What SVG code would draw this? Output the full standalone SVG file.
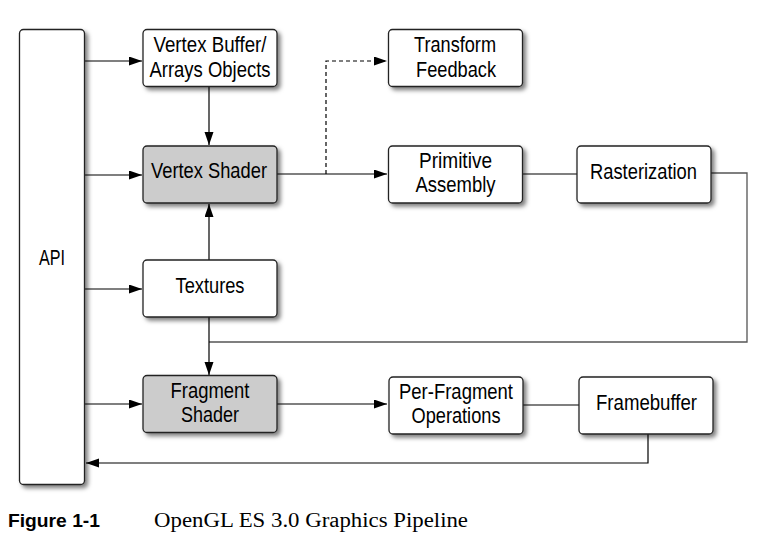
<svg xmlns="http://www.w3.org/2000/svg" width="766" height="535" viewBox="0 0 766 535">
<defs>
<filter id="sh" x="-20%" y="-20%" width="150%" height="150%">
<feDropShadow dx="3" dy="3" stdDeviation="2.2" flood-color="#000" flood-opacity="0.5"/>
</filter>
<marker id="ah" markerUnits="userSpaceOnUse" markerWidth="14" markerHeight="10" refX="13" refY="4.5" orient="auto">
<path d="M0,0 L13,4.5 L0,9 z" fill="#000"/>
</marker>
</defs>
<style>
.box{fill:#fff;stroke:#222;stroke-width:1.3;filter:url(#sh)}
.gray{fill:#cccccc}
.t{font-family:"Liberation Sans",Arial,sans-serif;font-size:22.5px;fill:#000}
.c{fill:none;stroke:#000;stroke-width:1.2}
.g{fill:none;stroke:#555;stroke-width:1.3}
.a{marker-end:url(#ah)}
.d{stroke-dasharray:4,3}
</style>
<rect width="766" height="535" fill="#fff"/>
<g id="connectors">
<path class="c a" d="M85,61 H142"/>
<path class="c a" d="M85,175 H142"/>
<path class="c a" d="M85,289 H142"/>
<path class="c a" d="M85,404 H142"/>
<path class="c a" d="M209,87 V145"/>
<path class="c a" d="M209,260 V204"/>
<path class="c a" d="M277,174 H387"/>
<path class="c a d" d="M326,174 V61 H387"/>
<path class="g" d="M522,174 H577"/>
<path class="g" d="M711,173 H747 V342 H209"/>
<path class="c a" d="M209,317 V375"/>
<path class="c a" d="M277,404 H387"/>
<path class="g" d="M523,405 H579"/>
<path class="c a" d="M648,434 V463 H86"/>
</g>
<g id="api">
<rect class="box" x="19.5" y="29.5" width="65" height="455" rx="4"/>
<text class="t" x="52" y="265" text-anchor="middle" textLength="26" lengthAdjust="spacingAndGlyphs">API</text>
</g>
<g id="vbo">
<rect class="box" x="143" y="29.5" width="134" height="57" rx="4"/>
<text class="t" x="210" y="52" text-anchor="middle" textLength="113" lengthAdjust="spacingAndGlyphs">Vertex Buffer/</text>
<text class="t" x="210" y="77" text-anchor="middle" textLength="121" lengthAdjust="spacingAndGlyphs">Arrays Objects</text>
</g>
<g id="vertex-shader">
<rect class="box gray" x="143" y="146" width="134" height="57" rx="4"/>
<text class="t" x="209" y="178" text-anchor="middle" textLength="116" lengthAdjust="spacingAndGlyphs">Vertex Shader</text>
</g>
<g id="textures">
<rect class="box" x="143" y="260" width="134" height="57" rx="4"/>
<text class="t" x="210" y="293" text-anchor="middle" textLength="69" lengthAdjust="spacingAndGlyphs">Textures</text>
</g>
<g id="fragment-shader">
<rect class="box gray" x="143" y="375.5" width="134" height="57" rx="4"/>
<text class="t" x="210" y="398" text-anchor="middle" textLength="79" lengthAdjust="spacingAndGlyphs">Fragment</text>
<text class="t" x="210" y="422" text-anchor="middle" textLength="58" lengthAdjust="spacingAndGlyphs">Shader</text>
</g>
<g id="transform-feedback">
<rect class="box" x="388.5" y="29.5" width="134" height="57" rx="4"/>
<text class="t" x="455" y="52" text-anchor="middle" textLength="82" lengthAdjust="spacingAndGlyphs">Transform</text>
<text class="t" x="456" y="77" text-anchor="middle" textLength="80" lengthAdjust="spacingAndGlyphs">Feedback</text>
</g>
<g id="primitive-assembly">
<rect class="box" x="388.5" y="146" width="134" height="57" rx="4"/>
<text class="t" x="455.5" y="168" text-anchor="middle" textLength="73" lengthAdjust="spacingAndGlyphs">Primitive</text>
<text class="t" x="455.5" y="192" text-anchor="middle" textLength="80" lengthAdjust="spacingAndGlyphs">Assembly</text>
</g>
<g id="rasterization">
<rect class="box" x="577" y="146" width="134" height="57" rx="4"/>
<text class="t" x="643.5" y="179" text-anchor="middle" textLength="107" lengthAdjust="spacingAndGlyphs">Rasterization</text>
</g>
<g id="per-fragment">
<rect class="box" x="389" y="377" width="134" height="57" rx="4"/>
<text class="t" x="456" y="399" text-anchor="middle" textLength="114" lengthAdjust="spacingAndGlyphs">Per-Fragment</text>
<text class="t" x="456" y="423" text-anchor="middle" textLength="89" lengthAdjust="spacingAndGlyphs">Operations</text>
</g>
<g id="framebuffer">
<rect class="box" x="579" y="377" width="134" height="57" rx="4"/>
<text class="t" x="646.5" y="410" text-anchor="middle" textLength="101" lengthAdjust="spacingAndGlyphs">Framebuffer</text>
</g>
<g id="caption">
<text x="8" y="527" font-family="'Liberation Sans',Arial,sans-serif" font-weight="bold" font-size="18" textLength="92" lengthAdjust="spacingAndGlyphs">Figure 1-1</text>
<text x="154" y="527" font-family="'Liberation Serif','Times New Roman',serif" font-size="20" textLength="314" lengthAdjust="spacingAndGlyphs">OpenGL ES 3.0 Graphics Pipeline</text>
</g>
</svg>
